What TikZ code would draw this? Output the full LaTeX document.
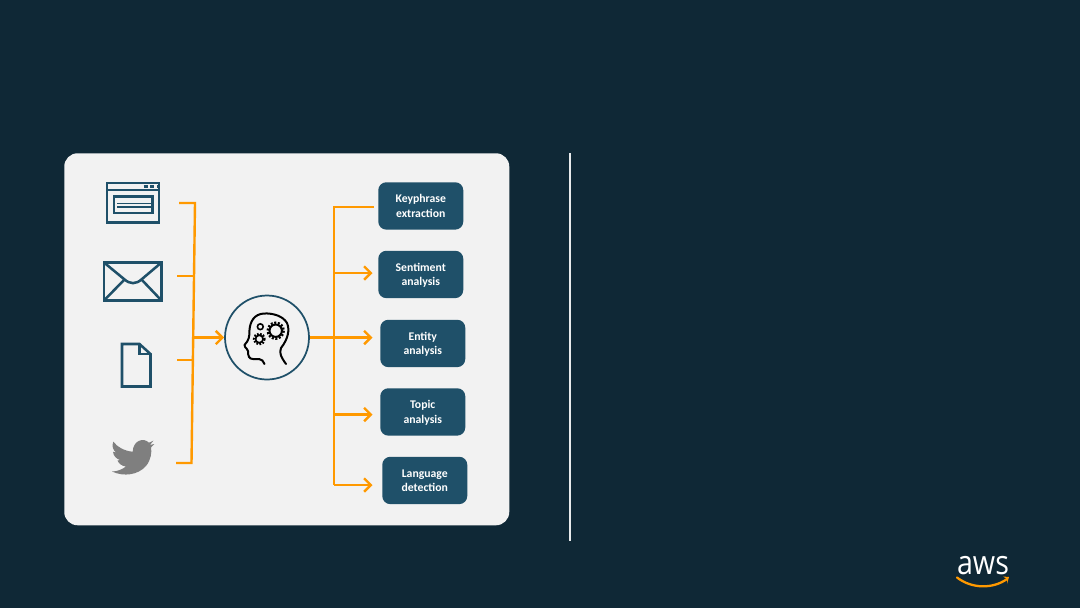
\documentclass[tikz,border=0pt]{standalone}
\usepackage{fontspec}
\setsansfont{Carlito}
\newfontfamily\logofont{Open Sans}
\usepackage{xcolor}
\usetikzlibrary{arrows.meta, positioning, calc}
\definecolor{slide}{HTML}{0F2836}
\definecolor{panelgrey}{HTML}{F2F2F2}
\definecolor{teal}{HTML}{1F5069}
\definecolor{amber}{HTML}{FF9900}
\definecolor{birdgrey}{HTML}{7F7F7F}

\begin{document}
\begin{tikzpicture}[
    x=0.75pt, y=-0.75pt,
    task/.style={
        rectangle, rounded corners=6pt, fill=teal, text=white,
        minimum width=63.75pt, minimum height=35.5pt, inner sep=0pt,
        align=center, anchor=north west, text depth=0pt,
        font=\fontsize{8.8}{10.6}\selectfont\sffamily\bfseries,
    },
    conn/.style={draw=amber, line width=1.8pt},
    arrowed/.style={conn, -{Straight Barb[length=5pt,width=10pt,line width=1.8pt]}},
    iconline/.style={draw=teal, line width=1.9pt},
]

% ── Slide and panel ────────────────────────────────────────────────────────
\path[use as bounding box, fill=slide] (0,0) rectangle (1080,608);
\node[rectangle, rounded corners=10pt, fill=panelgrey, inner sep=0pt,
      minimum width=333.75pt, minimum height=279pt, anchor=north west] (panel) at (64,153) {};
\coordinate (ruletop) at (570,153);
\coordinate (rulebot) at (570,541);
\draw[white!90!slide, line width=0.9pt] (ruletop) -- (rulebot);

% ── Source icons ───────────────────────────────────────────────────────────
% browser window
\draw[iconline] (107,183) rectangle (159,222.5);
\draw[iconline] (107,190) -- (159,190);
\draw[iconline, line width=2.2pt] (114,196) rectangle (152.5,213);
\draw[teal, line width=1pt] (115,197.5) -- (151,197.5);
\draw[teal, line width=1.4pt] (117,203.5) -- (152,203.5) (117,207) -- (152,207);
\draw[teal, line width=2pt, dash pattern=on 3pt off 2.2pt] (143.5,186.2) -- (158,186.2);
% envelope
\draw[iconline] (104,262.5) rectangle (161.5,300.5);
\draw[iconline] (104,262.5) -- (124,279) .. controls (130,284.5) and (136,284.5) .. (142,279) -- (161.5,262.5);
\draw[iconline] (104,300.5) -- (124.5,279.5) (161.5,300.5) -- (141.5,279.5);
% document
\draw[iconline, line join=miter] (122,344) -- (139.5,344) -- (150.5,354) -- (150.5,386.5) -- (122,386.5) -- cycle;
\draw[iconline] (139.5,344) -- (139.5,354) -- (150.5,354);
% bird
\fill[birdgrey] (154.3,444) -- (150,445) -- (153.3,440.7) -- (149,442.7)
    .. controls (143.5,437) and (133,440.5) .. (132.7,451.7)
    .. controls (124,451) and (117,446.5) .. (113.3,441.7)
    .. controls (111.5,446) and (113,450) .. (116,452.5) -- (113,451.7)
    .. controls (113.5,456) and (116,458.5) .. (120,460) -- (117.5,460.5)
    .. controls (119,464) and (122,466) .. (126,466.5)
    .. controls (122,469.5) and (117,471.5) .. (112,471.5)
    .. controls (124,477) and (138,475) .. (146,466)
    .. controls (151,460) and (152,452) .. (151,447.5) -- cycle;

% ── Hub ────────────────────────────────────────────────────────────────────
\node[circle, draw=teal, line width=1.3pt, fill=panelgrey, minimum size=63pt, inner sep=0pt] (hub) at (267,337.5) {};
\draw[black, line width=1.5pt, line cap=round, line join=round]
    (286,364) .. controls (281,357) and (279,353) .. (281,348)
    .. controls (288,339) and (290,330) .. (287,323)
    .. controls (283,316) and (273,313) .. (264,313.5)
    .. controls (254,314) and (250,322) .. (249.5,330)
    .. controls (249.5,337) and (249,340) .. (244.5,345)
    .. controls (245,349) and (248,348) .. (248,351)
    .. controls (248,356) and (249,359) .. (253,359)
    -- (259,359) .. controls (262,359) and (263,361) .. (264.5,364);
\draw[black, line width=1.5pt] (275.7,330.7) circle (6.2);
\draw[black, line width=1.8pt, dash pattern=on 1.5pt off 1.2pt] (275.7,330.7) circle (8);
\draw[black, line width=1.3pt] (259.3,339) circle (3.8);
\draw[black, line width=1.6pt, dash pattern=on 1.3pt off 1.1pt] (259.3,339) circle (5.4);
\draw[black, line width=1.2pt] (260.3,326.7) circle (2.9);

% ── Task boxes ─────────────────────────────────────────────────────────────
\node[task] (key)  at (378,182)   {Keyphrase\\extraction};
\node[task] (sent) at (378,250.5) {Sentiment\\analysis};
\node[task] (ent)  at (380,319.5) {Entity\\analysis};
\node[task] (top)  at (380,388)   {Topic\\analysis};
\node[task] (lang) at (382,456.5) {Language\\detection};

% ── Connectors, sources to hub ─────────────────────────────────────────────
\coordinate (webend)   at (179,203);
\coordinate (mailend)  at (177,276);
\coordinate (docend)   at (177,360);
\coordinate (birdend)  at (176,463);
\coordinate (bustop)   at (195,203);
\coordinate (busbot)   at (191.5,463);
\coordinate (hubin)    at (193,337.5);
\draw[conn, line join=miter] (webend) -- (bustop) -- (busbot) -- (birdend);
\draw[conn] (mailend) -- (194,276);
\draw[conn] (docend) -- (192.5,360);
\draw[arrowed] (hubin) -- (hub.west);

% ── Connectors, hub to tasks ───────────────────────────────────────────────
\coordinate (keyend)  at (374,207);
\coordinate (sentend) at (372.5,273);
\coordinate (entend)  at (372.5,337.5);
\coordinate (topend)  at (372.5,414.5);
\coordinate (langend) at (372.5,485);
\coordinate (busout)  at (334,207);
\draw[conn, line join=miter] (keyend) -- (busout) -- (busout |- langend);
\draw[arrowed] (busout |- langend) -- (langend);
\draw[arrowed] (busout |- sentend) -- (sentend);
\draw[arrowed] (hub.east) -- (entend);
\draw[arrowed] (busout |- topend) -- (topend);

% ── Logo ───────────────────────────────────────────────────────────────────
\node[text=white, inner sep=0pt, xscale=0.86, font=\fontsize{25}{25}\selectfont\logofont] (logo) at (983,565.5) {aws};
\draw[amber, line width=1.7pt, line cap=round] (957,577.5) .. controls (972,589) and (993,589) .. (1007,579);
\coordinate (smiletip) at (1009,577);
\fill[amber] (smiletip) -- (1003,576.5) -- (1007,579) -- (1007,584) -- cycle;

\end{tikzpicture}
\end{document}
